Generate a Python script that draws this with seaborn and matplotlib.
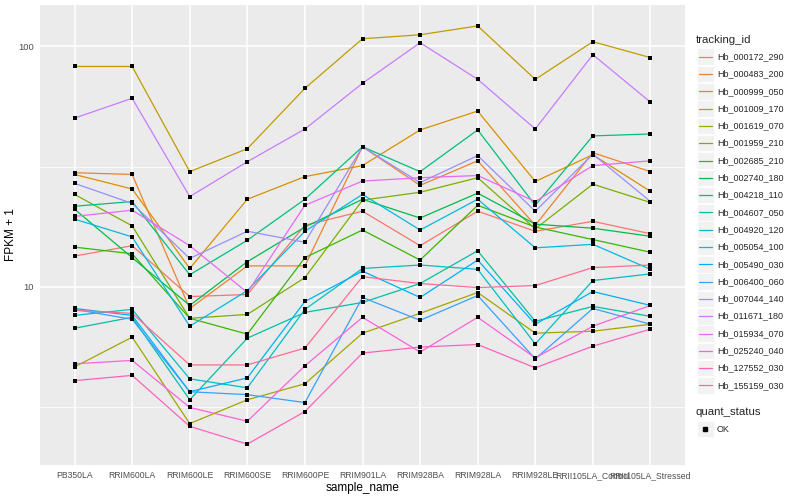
import numpy as np
import pandas as pd
import matplotlib
matplotlib.use("Agg")
import matplotlib.pyplot as plt
import seaborn as sns
from matplotlib.patches import Rectangle
from matplotlib.ticker import FixedLocator, FixedFormatter, NullFormatter

# samples on the x axis
samples = ["PB350LA", "RRIM600LA", "RRIM600LE", "RRIM600SE", "RRIM600PE", "RRIM901LA",
           "RRIM928BA", "RRIM928LA", "RRIM928LE", "RRII105LA_Control", "RRII105LA_Stressed"]

tracking_ids = ["Hb_000172_290", "Hb_000483_200", "Hb_000999_050", "Hb_001009_170",
                "Hb_001619_070", "Hb_001959_210", "Hb_002685_210", "Hb_002740_180",
                "Hb_004218_110", "Hb_004607_050", "Hb_004920_120", "Hb_005054_100",
                "Hb_005490_030", "Hb_006400_060", "Hb_007044_140", "Hb_011671_180",
                "Hb_015934_070", "Hb_025240_040", "Hb_127552_030", "Hb_155159_030"]

# ggplot default hue palette for 20 levels
colors = ["#F8766D", "#EA8331", "#D89000", "#C09B00", "#A3A500", "#7CAE00", "#39B600",
          "#00BB4E", "#00BF7D", "#00C1A3", "#00BFC4", "#00BAE0", "#00B0F6", "#35A2FF",
          "#9590FF", "#C77CFF", "#E76BF3", "#FA62DB", "#FF62BC", "#FF6C91"]

# FPKM + 1, one list per gene (same order as samples)
hb_000172_290 = [13.4, 14.8, 9.09, 9.27, 18.0, 20.6, 14.8, 20.6, 17.0, 18.7, 16.6]
hb_000483_200 = [29.8, 29.3, 8.1, 12.2, 12.2, 38.2, 26.4, 33.4, 18.0, 36.1, 30.1]
hb_000999_050 = [29.3, 25.5, 11.9, 23.1, 28.7, 31.9, 44.9, 53.8, 27.4, 35.4, 24.9]
hb_001009_170 = [82.5, 82.5, 30.1, 37.5, 66.9, 107.6, 111.8, 121.7, 72.9, 104.6, 89.8]
hb_001619_070 = [4.63, 6.16, 2.69, 3.38, 3.94, 6.40, 7.74, 9.45, 6.40, 6.52, 6.97]
hb_001959_210 = [24.2, 17.9, 7.38, 7.66, 10.9, 22.9, 24.7, 28.4, 17.4, 26.7, 22.4]
hb_002685_210 = [14.6, 13.7, 7.38, 6.34, 13.2, 17.2, 12.9, 21.8, 17.7, 15.7, 13.9]
hb_002740_180 = [21.0, 13.2, 8.35, 12.7, 17.7, 23.1, 19.3, 24.5, 18.2, 17.5, 16.2]
hb_004218_110 = [21.6, 22.6, 11.2, 15.6, 23.1, 38.2, 30.1, 44.9, 21.8, 42.4, 43.2]
hb_004607_050 = [6.71, 7.45, 3.38, 6.10, 7.81, 8.59, 10.3, 14.1, 7.17, 8.27, 7.52]
hb_004920_120 = [7.59, 8.04, 4.13, 3.79, 8.04, 11.9, 12.3, 11.8, 5.77, 10.6, 11.3]
hb_005054_100 = [19.1, 16.1, 6.84, 9.63, 17.0, 24.2, 17.2, 23.1, 14.5, 15.0, 11.8]
hb_005490_030 = [8.11, 7.59, 3.65, 4.17, 8.67, 11.6, 9.01, 12.9, 6.97, 9.54, 8.35]
hb_006400_060 = [8.04, 7.31, 3.65, 3.55, 3.29, 9.01, 7.24, 9.18, 5.00, 8.11, 6.97]
hb_007044_140 = [26.9, 22.2, 13.1, 17.0, 15.3, 38.2, 27.1, 35.1, 20.6, 35.6, 22.6]
hb_011671_180 = [50.3, 60.8, 23.7, 33.1, 45.3, 70.2, 103.6, 72.9, 45.3, 92.4, 58.6]
hb_015934_070 = [19.6, 20.8, 14.8, 9.45, 21.8, 27.5, 28.4, 29.0, 22.6, 31.9, 33.4]
hb_025240_040 = [4.77, 4.93, 3.14, 2.75, 4.68, 7.45, 5.34, 7.45, 5.05, 6.84, 8.35]
hb_127552_030 = [4.06, 4.27, 2.62, 2.21, 3.02, 5.29, 5.60, 5.74, 4.59, 5.65, 6.65]
hb_155159_030 = [7.96, 7.74, 4.72, 4.72, 5.55, 11.0, 10.3, 9.91, 10.1, 12.0, 12.3]

values = [hb_000172_290, hb_000483_200, hb_000999_050, hb_001009_170, hb_001619_070,
          hb_001959_210, hb_002685_210, hb_002740_180, hb_004218_110, hb_004607_050,
          hb_004920_120, hb_005054_100, hb_005490_030, hb_006400_060, hb_007044_140,
          hb_011671_180, hb_015934_070, hb_025240_040, hb_127552_030, hb_155159_030]

rows = []
for tid, vals in zip(tracking_ids, values):
    for s, v in zip(samples, vals):
        rows.append({"tracking_id": tid, "sample_name": s, "fpkm1": v, "quant_status": "OK"})
df = pd.DataFrame(rows)

sns.set_theme(style="darkgrid", rc={"axes.facecolor": "#EBEBEB", "grid.color": "white"})
plt.rcParams["font.family"] = ["Liberation Sans", "DejaVu Sans"]

fig = plt.figure(figsize=(8, 5), dpi=100)
ax = fig.add_axes([40 / 800, 35 / 500, 645 / 800, 460 / 500])

sns.lineplot(data=df, x="sample_name", y="fpkm1", hue="tracking_id", hue_order=tracking_ids,
             palette=colors, estimator=None, sort=False, linewidth=0.9, legend=False, ax=ax)
sns.scatterplot(data=df, x="sample_name", y="fpkm1", color="black", marker="s", s=10,
                linewidth=0, legend=False, ax=ax, zorder=3)

# log10 scale with ggplot-style 5% expansion
ax.set_yscale("log")
lo, hi = np.log10(df["fpkm1"].min()), np.log10(df["fpkm1"].max())
pad = 0.05 * (hi - lo)
ax.set_ylim(10 ** (lo - pad), 10 ** (hi + pad))
ax.set_xlim(-0.6, len(samples) - 0.4)

ax.yaxis.set_major_locator(FixedLocator([10, 100]))
ax.yaxis.set_major_formatter(FixedFormatter(["10", "100"]))
ax.yaxis.set_minor_locator(FixedLocator([10 ** 0.5, 10 ** 1.5]))
ax.yaxis.set_minor_formatter(NullFormatter())

ax.set_axisbelow(True)
ax.grid(which="major", color="white", linewidth=1.1)
ax.grid(which="minor", axis="y", color="white", linewidth=0.55)
for sp in ax.spines.values():
    sp.set_visible(False)

ax.tick_params(axis="both", which="major", length=3, width=0.6, color="#333333",
               labelcolor="#4D4D4D", pad=1.5)
ax.tick_params(axis="both", which="minor", length=0)
ax.tick_params(axis="x", labelsize=6.2)
ax.tick_params(axis="y", labelsize=6.8)
for lab in ax.get_xticklabels():
    lab.set_family(["Liberation Sans Narrow", "Liberation Sans"])

ax.set_xlabel("sample_name", fontsize=8.5, color="black", labelpad=1.5)
ax.set_ylabel("FPKM + 1", fontsize=8.5, color="black", labelpad=1)

# legends drawn on an overlay in pixel coordinates
lg = fig.add_axes([0, 0, 1, 1], facecolor="none")
lg.set_xlim(0, 800)
lg.set_ylim(500, 0)
lg.axis("off")

lg.text(696, 40, "tracking_id", fontsize=8.2, va="center", ha="left")
for i, (tid, col) in enumerate(zip(tracking_ids, colors)):
    yc = 56.7 + i * 17.3
    lg.add_patch(Rectangle((697, yc - 8.3), 16.6, 16.6, facecolor="#F2F2F2",
                           edgecolor="white", linewidth=0.6))
    lg.plot([698.5, 712], [yc, yc], color=col, linewidth=0.9)
    lg.text(717, yc, tid, fontsize=6.5, va="center", ha="left")

lg.text(696, 412, "quant_status", fontsize=8.2, va="center", ha="left")
lg.add_patch(Rectangle((697, 429 - 8.3), 16.6, 16.6, facecolor="#F2F2F2",
                       edgecolor="white", linewidth=0.6))
lg.plot([705], [429], marker="s", color="black", markersize=3)
lg.text(717, 429, "OK", fontsize=6.5, va="center", ha="left")

fig.savefig("out.png", dpi=100, facecolor="white")
